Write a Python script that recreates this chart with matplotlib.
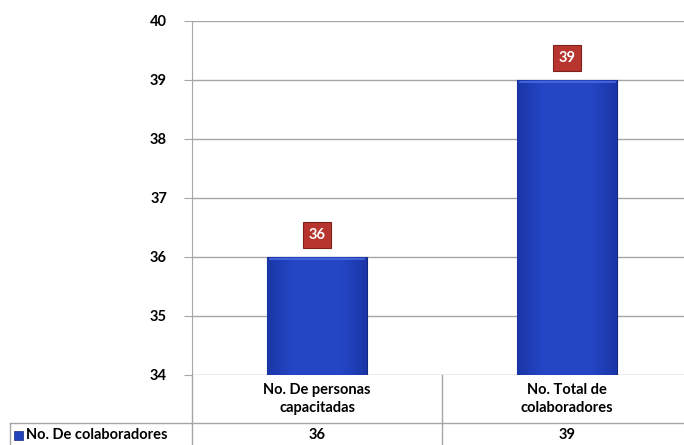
import numpy as np
import matplotlib.pyplot as plt
from matplotlib.colors import LinearSegmentedColormap

plt.rcParams['font.family'] = ['Lato', 'DejaVu Sans']
plt.rcParams['font.weight'] = 'bold'

categorias = ["No. De personas\ncapacitadas", "No. Total de\ncolaboradores"]
valores = [36, 39]
serie = "No. De colaboradores"
ymin, ymax = 34, 40

W, H = 684, 445
fig = plt.figure(figsize=(W / 100, H / 100), dpi=100)
ax = fig.add_axes([192 / W, 70 / H, 500 / W, 354 / H])
ax.set_xlim(0, len(valores))
ax.set_ylim(ymin, ymax)

# grid
ticks = list(range(ymin, ymax + 1))
ax.set_yticks(ticks)
ax.set_yticklabels([str(t) for t in ticks], fontweight='bold', fontsize=10.5)
ax.yaxis.grid(True, color='#a6a6a6', lw=1)
ax.set_axisbelow(True)
for s in ['top', 'right', 'bottom']:
    ax.spines[s].set_visible(False)
ax.spines['left'].set_color('#a6a6a6')
ax.tick_params(axis='y', length=6, color='#a6a6a6', pad=12)
ax.set_xticks([])

# bars with gradient
x = np.arange(len(valores)) + 0.5
bars = ax.bar(x, np.array(valores) - ymin, bottom=ymin, width=0.4,
              color='#2243bd', edgecolor='#13287a', lw=0.8, zorder=3)
grad = np.linspace(0, 1, 100)
grad = 1 - np.abs(grad - 0.5) * 2
cmap = LinearSegmentedColormap.from_list('g', ['#1a35a6', '#2446c4', '#2547c6'])
for b in bars:
    x0, y0 = b.get_x(), b.get_y()
    im = ax.imshow(grad[None, :], extent=[x0, x0 + b.get_width(), y0, y0 + b.get_height()],
                   cmap=cmap, aspect='auto', zorder=3.5)
    im.set_clip_path(b)
    ax.plot([x0 + 0.01, x0 + b.get_width() - 0.01], [y0 + b.get_height() - 0.03] * 2,
            color='#4a6ae0', lw=1.2, zorder=4)
ax.set_xlim(0, len(valores))
ax.set_ylim(ymin, ymax)

# value labels
for xi, v in zip(x, valores):
    ax.annotate(str(v), (xi, v), xytext=(0, 16), textcoords='offset points',
                ha='center', va='center', color='white', fontsize=10.5, fontweight='bold',
                bbox=dict(boxstyle='square,pad=0.4', fc='#b8352f', ec='#7e201c', lw=0.8),
                zorder=6)

# data table
line_c = '#a6a6a6'
def fx(px):
    return px / W
def fy(py):
    return 1 - py / H

col_l = 192
col_w = 250
row1_top, row1_bot, row2_bot = 375, 423, 445
fig.add_artist(plt.Line2D([fx(col_l), 1], [fy(row1_bot)] * 2, color=line_c, lw=1))
fig.add_artist(plt.Line2D([fx(10), fx(col_l)], [fy(row1_bot)] * 2, color=line_c, lw=1))
fig.add_artist(plt.Line2D([fx(10), fx(10)], [fy(row1_bot), 0], color=line_c, lw=1))
for i in range(len(valores) + 1):
    px = col_l + i * col_w
    fig.add_artist(plt.Line2D([fx(px)] * 2, [fy(row1_top), 0], color=line_c, lw=1))
for i, (c, v) in enumerate(zip(categorias, valores)):
    cx = col_l + (i + 0.5) * col_w
    fig.text(fx(cx), fy((row1_top + row1_bot) / 2), c, ha='center', va='center',
             fontsize=10.5, fontweight='bold', linespacing=1.35)
    fig.text(fx(cx), fy((row1_bot + row2_bot) / 2 + 1), str(v), ha='center', va='center',
             fontsize=10.5, fontweight='bold')
fig.patches.append(plt.Rectangle((fx(14), fy(440)), 9 / W, 9 / H, transform=fig.transFigure,
                                 fc='#2243bd', ec='#13287a', lw=0.5, figure=fig))
fig.text(fx(26), fy((row1_bot + row2_bot) / 2 + 1), serie, ha='left', va='center',
         fontsize=10.5, fontweight='bold')

fig.savefig('out.png', dpi=100)
